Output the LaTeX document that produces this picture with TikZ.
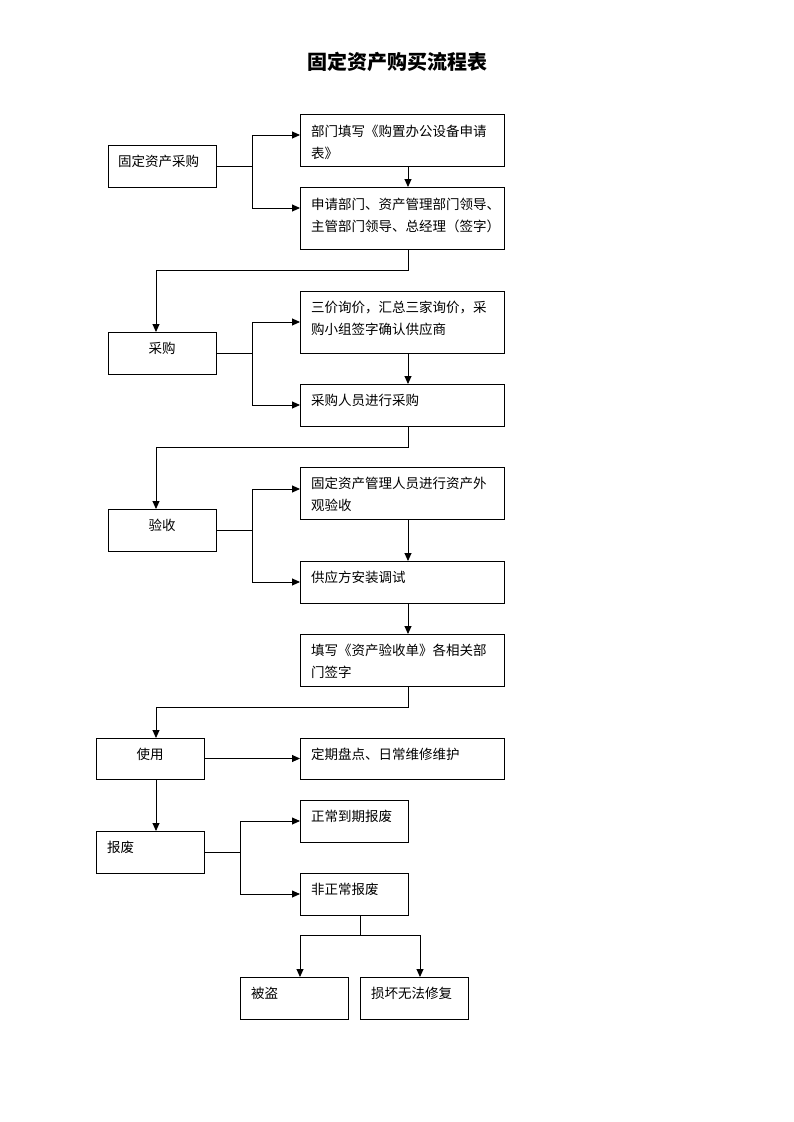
\documentclass[tikz,border=0pt]{standalone}
\usepackage{fontspec}
\newfontfamily\cjk{Noto Sans CJK SC}
\usetikzlibrary{arrows.meta}
\begin{document}
\begin{tikzpicture}[x=1pt,y=-1pt,
  box/.style={draw=black,line width=0.9pt,inner sep=0pt,outer sep=0pt,anchor=north west},
  txt/.style={inner sep=0pt,anchor=north west,align=left,font=\cjk\fontsize{13.5}{22}\selectfont},
  ctxt/.style={inner sep=0pt,anchor=north,font=\cjk\fontsize{13.5}{22}\selectfont},
  ln/.style={draw=black,line width=0.9pt},
  arr/.style={ln,-{Triangle[length=8pt,width=7pt]}}]
\useasboundingbox (0,0) rectangle (793,1122);
% title
\node[inner sep=0pt,font=\cjk\bfseries\fontsize{20}{22}\selectfont] (title) at (397,62) {固定资产购买流程表};
% boxes
\node[box,minimum width=108,minimum height=42] (a) at (108,145) {};
\node[box,minimum width=204,minimum height=52] (b1) at (300,114) {};
\node[box,minimum width=204,minimum height=62] (b2) at (300,187) {};
\node[box,minimum width=108,minimum height=42] (c) at (108,332) {};
\node[box,minimum width=204,minimum height=62] (d1) at (300,291) {};
\node[box,minimum width=204,minimum height=42] (d2) at (300,384) {};
\node[box,minimum width=108,minimum height=42] (e) at (108,509) {};
\node[box,minimum width=204,minimum height=52] (f1) at (300,467) {};
\node[box,minimum width=204,minimum height=42] (f2) at (300,561) {};
\node[box,minimum width=204,minimum height=52] (f3) at (300,634) {};
\node[box,minimum width=108,minimum height=41] (g) at (96,738) {};
\node[box,minimum width=204,minimum height=41] (h) at (300,738) {};
\node[box,minimum width=108,minimum height=42] (i) at (96,831) {};
\node[box,minimum width=108,minimum height=42] (j1) at (300,800) {};
\node[box,minimum width=108,minimum height=42] (j2) at (300,873) {};
\node[box,minimum width=108,minimum height=42] (k1) at (240,977) {};
\node[box,minimum width=108,minimum height=42] (k2) at (360,977) {};
% texts
\node[txt] (ta) at (118,155) {固定资产采购};
\node[txt] (tb1) at (311,125) {部门填写《购置办公设备申请\\表》};
\node[txt] (tb2) at (311,198) {申请部门、资产管理部门领导、\\主管部门领导、总经理（签字）};
\node[ctxt] (tc) at (162,342) {采购};
\node[txt] (td1) at (311,301) {三价询价，汇总三家询价，采\\购小组签字确认供应商};
\node[txt] (td2) at (311,394) {采购人员进行采购};
\node[ctxt] (te) at (162,519) {验收};
\node[txt] (tf1) at (311,477) {固定资产管理人员进行资产外\\观验收};
\node[txt] (tf2) at (311,571) {供应方安装调试};
\node[txt] (tf3) at (311,644) {填写《资产验收单》各相关部\\门签字};
\node[ctxt] (tg) at (150,748) {使用};
\node[txt] (th) at (311,748) {定期盘点、日常维修维护};
\node[txt] (ti) at (107,841) {报废};
\node[txt] (tj1) at (311,810) {正常到期报废};
\node[txt] (tj2) at (311,883) {非正常报废};
\node[txt] (tk1) at (251,987) {被盗};
\node[txt] (tk2) at (371,987) {损坏无法修复};
% connectors: section 1
\coordinate (ja) at (252,166);
\draw[ln] (a.east) -- (ja);
\draw[arr] (ja) |- ([yshift=-21]b1.north west);
\draw[arr] (ja) |- ([yshift=-21]b2.north west);
\draw[arr] ([xshift=6]b1.south) -- ([xshift=6]b2.north);
\draw[arr] ([xshift=6]b2.south) -- ++(0,21) -| ([xshift=-6]c.north);
% section 2
\coordinate (jc) at (252,353);
\draw[ln] (c.east) -- (jc);
\draw[arr] (jc) |- (d1.west);
\draw[arr] (jc) |- (d2.west);
\draw[arr] ([xshift=6]d1.south) -- ([xshift=6]d2.north);
\draw[arr] ([xshift=6]d2.south) -- ++(0,21) -| ([xshift=-6]e.north);
% section 3
\coordinate (je) at (252,530);
\draw[ln] (e.east) -- (je);
\draw[arr] (je) |- ([yshift=4]f1.west);
\draw[arr] (je) |- (f2.west);
\draw[arr] ([xshift=6]f1.south) -- ([xshift=6]f2.north);
\draw[arr] ([xshift=6]f2.south) -- ([xshift=6]f3.north);
\draw[arr] ([xshift=6]f3.south) -- ++(0,21) -| ([xshift=6]g.north);
% section 4
\draw[arr] (g.east) -- (h.west);
\draw[arr] ([xshift=6]g.south) -- ([xshift=6]i.north);
\coordinate (ji) at (240,852);
\draw[ln] (i.east) -- (ji);
\draw[arr] (ji) |- (j1.west);
\draw[arr] (ji) |- (j2.west);
\coordinate (jj) at (360,935);
\draw[ln] ([xshift=6]j2.south) -- (jj);
\draw[arr] (jj) -| ([xshift=6]k1.north);
\draw[arr] (jj) -| ([xshift=6]k2.north);
\end{tikzpicture}
\end{document}
